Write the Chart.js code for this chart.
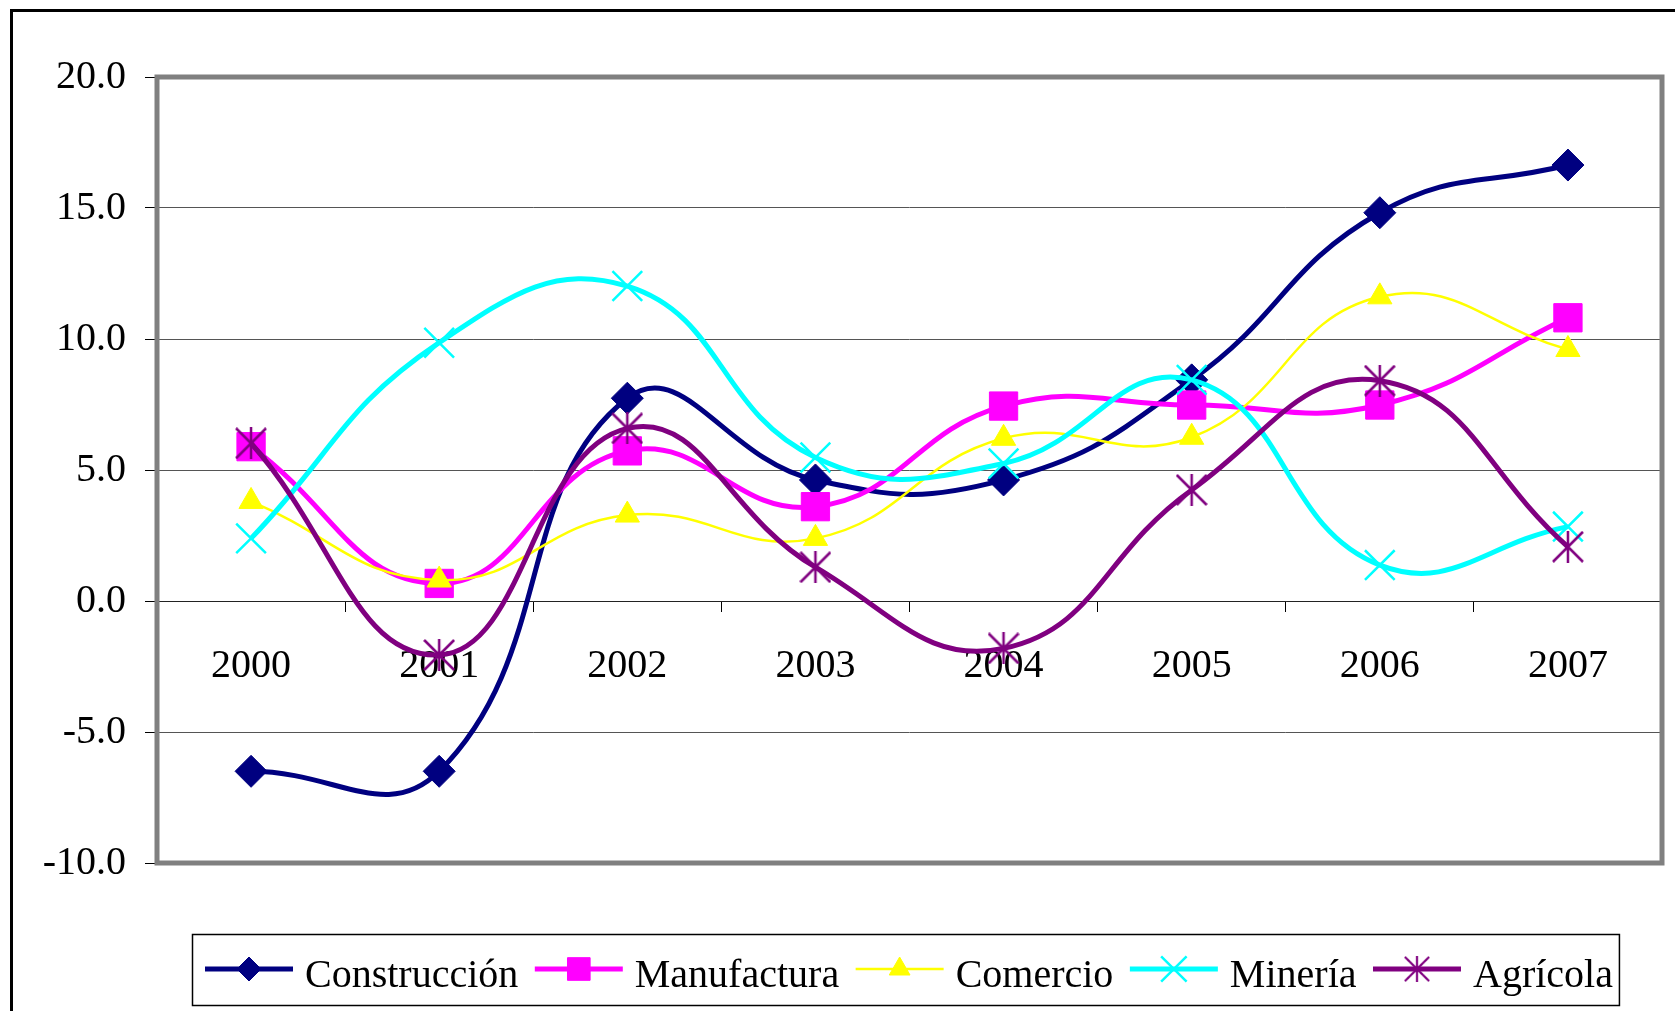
<!DOCTYPE html>
<html lang="es">
<head>
<meta charset="UTF-8">
<title>Crecimiento por sector 2000-2007</title>
<script src="https://cdn.jsdelivr.net/npm/chart.js"></script>
<style>
  html, body { margin: 0; padding: 0; background: #fff; }
  canvas { display: block; }
</style>
</head>
<body>
<canvas id="sectorChart" width="1675" height="1011"></canvas>
<script>
  // values (% change per year)
  const years = ['2000', '2001', '2002', '2003', '2004', '2005', '2006', '2007'];
  const construccion = [-6.5, -6.5, 7.74, 4.62, 4.62, 8.44, 14.82, 16.64];
  const manufactura = [5.89, 0.67, 5.73, 3.6, 7.44, 7.48, 7.48, 10.81];
  const comercio = [3.8, 0.8, 3.28, 2.39, 6.21, 6.25, 11.61, 9.6];
  const mineria = [2.39, 9.86, 12.02, 5.48, 5.25, 8.44, 1.37, 2.84];
  const agricola = [6.02, -2.06, 6.59, 1.29, -1.81, 4.24, 8.41, 2.07];

  const FONT = '"Liberation Serif", "Times New Roman", serif';

  // Excel style asterisk marker (vertical bar + X)
  function makeAsterisk(size, color, lw) {
    const c = document.createElement('canvas');
    c.width = size;
    c.height = size;
    const g = c.getContext('2d');
    g.strokeStyle = color;
    g.lineWidth = lw;
    const m = 1, e = size - 1, h = size / 2;
    g.beginPath();
    g.moveTo(m, m); g.lineTo(e, e);
    g.moveTo(e, m); g.lineTo(m, e);
    g.moveTo(h, 0); g.lineTo(h, size);
    g.stroke();
    return c;
  }
  const asterisk = makeAsterisk(32, '#800080', 2.5);

  // border around the plot, outer frame and the boxed legend at the bottom
  const decorations = {
    id: 'decorations',
    afterDraw(chart) {
      const ctx = chart.ctx;
      const a = chart.chartArea;
      ctx.save();

      ctx.strokeStyle = '#808080';
      ctx.lineWidth = 5;
      ctx.strokeRect(a.left, a.top, a.right - a.left, a.bottom - a.top);

      ctx.strokeStyle = '#000';
      ctx.lineWidth = 3;
      ctx.strokeRect(11.5, 10.5, 2000, 2000);

      // legend
      ctx.font = '40px ' + FONT;
      ctx.textBaseline = 'alphabetic';
      ctx.textAlign = 'left';
      const cy = 969;
      const gap = 16.5;
      let x = 205;
      chart.data.datasets.forEach(ds => {
        ctx.strokeStyle = ds.borderColor;
        ctx.lineWidth = ds.borderWidth;
        ctx.beginPath();
        ctx.moveTo(x, cy);
        ctx.lineTo(x + 88, cy);
        ctx.stroke();
        const mx = x + 44;
        if (ds.pointStyle === asterisk) {
          ctx.drawImage(asterisk, mx - 13, cy - 13, 26, 26);
        } else {
          ctx.fillStyle = ds.pointBackgroundColor;
          ctx.strokeStyle = ds.pointBorderColor;
          ctx.lineWidth = ds.pointBorderWidth;
          Chart.helpers.drawPoint(ctx, {
            pointStyle: ds.pointStyle,
            radius: ds.legendRadius,
            rotation: 0,
            borderWidth: ds.pointBorderWidth
          }, mx, cy);
        }
        ctx.fillStyle = '#000';
        ctx.fillText(ds.label, x + 100, 987);
        x += 100 + ctx.measureText(ds.label).width + gap;
      });
      ctx.strokeStyle = '#000';
      ctx.lineWidth = 1.5;
      ctx.strokeRect(192.5, 934.5, x - gap + 6 - 192, 71);

      ctx.restore();
    }
  };

  const ctx = document.getElementById('sectorChart').getContext('2d');

  new Chart(ctx, {
    type: 'line',
    data: {
      labels: years,
      datasets: [
        {
          label: 'Construcción',
          data: construccion,
          borderColor: '#000080',
          borderWidth: 5,
          pointStyle: 'rectRot',
          pointRadius: 16,
          pointBackgroundColor: '#000080',
          pointBorderColor: '#000080',
          pointBorderWidth: 1,
          legendRadius: 12,
          order: 4
        },
        {
          label: 'Manufactura',
          data: manufactura,
          borderColor: '#ff00ff',
          borderWidth: 5,
          pointStyle: 'rect',
          pointRadius: 20,
          pointBackgroundColor: '#ff00ff',
          pointBorderColor: '#ff00ff',
          pointBorderWidth: 1,
          legendRadius: 16,
          order: 3
        },
        {
          label: 'Comercio',
          data: comercio,
          borderColor: '#ffff00',
          borderWidth: 2.5,
          pointStyle: 'triangle',
          pointRadius: 14,
          pointBackgroundColor: '#ffff00',
          pointBorderColor: '#ffff00',
          pointBorderWidth: 1,
          legendRadius: 12,
          order: 2
        },
        {
          label: 'Minería',
          data: mineria,
          borderColor: '#00ffff',
          borderWidth: 5,
          pointStyle: 'crossRot',
          pointRadius: 21,
          pointBackgroundColor: '#00ffff',
          pointBorderColor: '#00ffff',
          pointBorderWidth: 2.5,
          legendRadius: 18,
          order: 1
        },
        {
          label: 'Agrícola',
          data: agricola,
          borderColor: '#800080',
          borderWidth: 5,
          pointStyle: asterisk,
          pointRadius: 16,
          pointBackgroundColor: '#800080',
          pointBorderColor: '#800080',
          pointBorderWidth: 2,
          legendRadius: 13,
          order: 0
        }
      ]
    },
    options: {
      responsive: false,
      animation: false,
      layout: {
        autoPadding: false,
        padding: { left: 0, top: 77, right: 13, bottom: 148 }
      },
      elements: { line: { tension: 0.45 } },
      plugins: {
        legend: { display: false },
        tooltip: { enabled: false }
      },
      scales: {
        x: {
          type: 'category',
          position: { y: 0 },
          offset: true,
          grid: {
            offset: true,
            drawOnChartArea: false,
            color: '#000',
            tickLength: 10
          },
          border: { display: true, color: '#222', width: 1 },
          ticks: {
            color: '#000',
            padding: 31,
            maxRotation: 0,
            font: { family: FONT, size: 40 }
          }
        },
        y: {
          min: -10,
          max: 20,
          afterFit(scale) { scale.width = 157; },
          grid: {
            color: '#555',
            tickColor: '#000',
            tickLength: 12
          },
          border: { display: false },
          ticks: {
            stepSize: 5,
            color: '#000',
            padding: 19,
            font: { family: FONT, size: 40 },
            callback: v => v.toFixed(1)
          }
        }
      }
    },
    plugins: [decorations]
  });
</script>
</body>
</html>
